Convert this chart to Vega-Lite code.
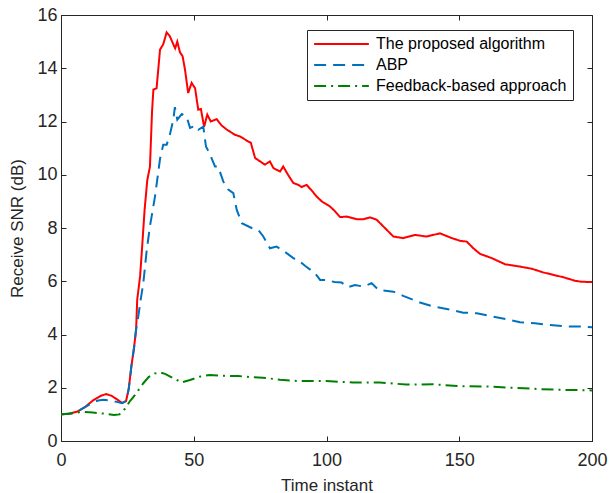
{
  "$schema": "https://vega.github.io/schema/vega-lite/v6.json",
  "width": 531,
  "height": 426,
  "autosize": {"type": "none"},
  "padding": {"left": 61, "top": 15, "right": 17, "bottom": 52},
  "config": {
    "font": "Liberation Sans",
    "view": {"stroke": "#262626", "strokeWidth": 1},
    "axis": {
      "domainColor": "#262626",
      "tickColor": "#262626",
      "labelColor": "#262626",
      "titleColor": "#262626",
      "labelFontSize": 18,
      "titleFontSize": 17,
      "titleFontWeight": "normal",
      "tickSize": -5,
      "grid": false
    }
  },
  "datasets": {
    "snr": [
      {"t": 0, "snr": 1.0, "method": "The proposed algorithm"},
      {"t": 3, "snr": 1.02, "method": "The proposed algorithm"},
      {"t": 6, "snr": 1.1, "method": "The proposed algorithm"},
      {"t": 9, "snr": 1.27, "method": "The proposed algorithm"},
      {"t": 12, "snr": 1.52, "method": "The proposed algorithm"},
      {"t": 15, "snr": 1.7, "method": "The proposed algorithm"},
      {"t": 17, "snr": 1.76, "method": "The proposed algorithm"},
      {"t": 19, "snr": 1.7, "method": "The proposed algorithm"},
      {"t": 21, "snr": 1.57, "method": "The proposed algorithm"},
      {"t": 23, "snr": 1.43, "method": "The proposed algorithm"},
      {"t": 24.5, "snr": 1.5, "method": "The proposed algorithm"},
      {"t": 25.5, "snr": 1.95, "method": "The proposed algorithm"},
      {"t": 26.5, "snr": 2.8, "method": "The proposed algorithm"},
      {"t": 27.5, "snr": 3.5, "method": "The proposed algorithm"},
      {"t": 28.3, "snr": 4.2, "method": "The proposed algorithm"},
      {"t": 28.7, "snr": 5.3, "method": "The proposed algorithm"},
      {"t": 29.8, "snr": 6.2, "method": "The proposed algorithm"},
      {"t": 30.5, "snr": 7.2, "method": "The proposed algorithm"},
      {"t": 31.5, "snr": 8.7, "method": "The proposed algorithm"},
      {"t": 32.5, "snr": 9.8, "method": "The proposed algorithm"},
      {"t": 33.5, "snr": 10.3, "method": "The proposed algorithm"},
      {"t": 34.3, "snr": 12.4, "method": "The proposed algorithm"},
      {"t": 34.8, "snr": 13.2, "method": "The proposed algorithm"},
      {"t": 36, "snr": 13.25, "method": "The proposed algorithm"},
      {"t": 37.3, "snr": 14.7, "method": "The proposed algorithm"},
      {"t": 38.5, "snr": 14.9, "method": "The proposed algorithm"},
      {"t": 39.8, "snr": 15.35, "method": "The proposed algorithm"},
      {"t": 41, "snr": 15.2, "method": "The proposed algorithm"},
      {"t": 42.3, "snr": 14.9, "method": "The proposed algorithm"},
      {"t": 43, "snr": 14.75, "method": "The proposed algorithm"},
      {"t": 43.8, "snr": 15.0, "method": "The proposed algorithm"},
      {"t": 44.8, "snr": 14.6, "method": "The proposed algorithm"},
      {"t": 45.8, "snr": 14.45, "method": "The proposed algorithm"},
      {"t": 46.7, "snr": 13.95, "method": "The proposed algorithm"},
      {"t": 47.9, "snr": 13.07, "method": "The proposed algorithm"},
      {"t": 49.2, "snr": 13.45, "method": "The proposed algorithm"},
      {"t": 50.5, "snr": 13.25, "method": "The proposed algorithm"},
      {"t": 51.7, "snr": 12.44, "method": "The proposed algorithm"},
      {"t": 52.7, "snr": 12.47, "method": "The proposed algorithm"},
      {"t": 53.9, "snr": 11.8, "method": "The proposed algorithm"},
      {"t": 55.1, "snr": 12.26, "method": "The proposed algorithm"},
      {"t": 56.4, "snr": 12.0, "method": "The proposed algorithm"},
      {"t": 58.6, "snr": 12.09, "method": "The proposed algorithm"},
      {"t": 60.5, "snr": 11.85, "method": "The proposed algorithm"},
      {"t": 62.4, "snr": 11.7, "method": "The proposed algorithm"},
      {"t": 65.5, "snr": 11.5, "method": "The proposed algorithm"},
      {"t": 67.4, "snr": 11.44, "method": "The proposed algorithm"},
      {"t": 70.5, "snr": 11.25, "method": "The proposed algorithm"},
      {"t": 71.5, "snr": 11.2, "method": "The proposed algorithm"},
      {"t": 73.1, "snr": 10.63, "method": "The proposed algorithm"},
      {"t": 75, "snr": 10.5, "method": "The proposed algorithm"},
      {"t": 76.8, "snr": 10.38, "method": "The proposed algorithm"},
      {"t": 78.7, "snr": 10.5, "method": "The proposed algorithm"},
      {"t": 80, "snr": 10.25, "method": "The proposed algorithm"},
      {"t": 82.5, "snr": 10.12, "method": "The proposed algorithm"},
      {"t": 83.7, "snr": 10.31, "method": "The proposed algorithm"},
      {"t": 85.5, "snr": 10.0, "method": "The proposed algorithm"},
      {"t": 87.5, "snr": 9.69, "method": "The proposed algorithm"},
      {"t": 89.4, "snr": 9.62, "method": "The proposed algorithm"},
      {"t": 90.6, "snr": 9.54, "method": "The proposed algorithm"},
      {"t": 92.5, "snr": 9.62, "method": "The proposed algorithm"},
      {"t": 94.5, "snr": 9.4, "method": "The proposed algorithm"},
      {"t": 96.3, "snr": 9.18, "method": "The proposed algorithm"},
      {"t": 98.2, "snr": 9.0, "method": "The proposed algorithm"},
      {"t": 101.3, "snr": 8.81, "method": "The proposed algorithm"},
      {"t": 103, "snr": 8.65, "method": "The proposed algorithm"},
      {"t": 105.1, "snr": 8.41, "method": "The proposed algorithm"},
      {"t": 107.6, "snr": 8.43, "method": "The proposed algorithm"},
      {"t": 111.4, "snr": 8.33, "method": "The proposed algorithm"},
      {"t": 113.9, "snr": 8.33, "method": "The proposed algorithm"},
      {"t": 116.4, "snr": 8.4, "method": "The proposed algorithm"},
      {"t": 118.9, "snr": 8.31, "method": "The proposed algorithm"},
      {"t": 122, "snr": 8.0, "method": "The proposed algorithm"},
      {"t": 125.2, "snr": 7.68, "method": "The proposed algorithm"},
      {"t": 128.9, "snr": 7.62, "method": "The proposed algorithm"},
      {"t": 133.3, "snr": 7.74, "method": "The proposed algorithm"},
      {"t": 137.7, "snr": 7.68, "method": "The proposed algorithm"},
      {"t": 142.7, "snr": 7.8, "method": "The proposed algorithm"},
      {"t": 147.2, "snr": 7.62, "method": "The proposed algorithm"},
      {"t": 150.3, "snr": 7.52, "method": "The proposed algorithm"},
      {"t": 152.8, "snr": 7.49, "method": "The proposed algorithm"},
      {"t": 155.3, "snr": 7.24, "method": "The proposed algorithm"},
      {"t": 157.8, "snr": 7.03, "method": "The proposed algorithm"},
      {"t": 162.2, "snr": 6.87, "method": "The proposed algorithm"},
      {"t": 167.2, "snr": 6.64, "method": "The proposed algorithm"},
      {"t": 172.9, "snr": 6.55, "method": "The proposed algorithm"},
      {"t": 177.3, "snr": 6.47, "method": "The proposed algorithm"},
      {"t": 181.7, "snr": 6.33, "method": "The proposed algorithm"},
      {"t": 189.2, "snr": 6.15, "method": "The proposed algorithm"},
      {"t": 193.6, "snr": 6.02, "method": "The proposed algorithm"},
      {"t": 196, "snr": 5.98, "method": "The proposed algorithm"},
      {"t": 200, "snr": 5.97, "method": "The proposed algorithm"},

      {"t": 0, "snr": 1.0, "method": "ABP"},
      {"t": 3, "snr": 1.02, "method": "ABP"},
      {"t": 6, "snr": 1.1, "method": "ABP"},
      {"t": 9, "snr": 1.27, "method": "ABP"},
      {"t": 12, "snr": 1.45, "method": "ABP"},
      {"t": 14, "snr": 1.52, "method": "ABP"},
      {"t": 16, "snr": 1.55, "method": "ABP"},
      {"t": 18, "snr": 1.53, "method": "ABP"},
      {"t": 21, "snr": 1.47, "method": "ABP"},
      {"t": 23, "snr": 1.42, "method": "ABP"},
      {"t": 24.5, "snr": 1.5, "method": "ABP"},
      {"t": 25.5, "snr": 1.95, "method": "ABP"},
      {"t": 26.5, "snr": 2.8, "method": "ABP"},
      {"t": 27.5, "snr": 3.5, "method": "ABP"},
      {"t": 28.3, "snr": 4.2, "method": "ABP"},
      {"t": 29, "snr": 4.6, "method": "ABP"},
      {"t": 30, "snr": 5.3, "method": "ABP"},
      {"t": 31, "snr": 5.93, "method": "ABP"},
      {"t": 32.3, "snr": 7.18, "method": "ABP"},
      {"t": 33.5, "snr": 8.06, "method": "ABP"},
      {"t": 35.4, "snr": 9.18, "method": "ABP"},
      {"t": 37.3, "snr": 10.6, "method": "ABP"},
      {"t": 38.5, "snr": 11.13, "method": "ABP"},
      {"t": 39.8, "snr": 11.13, "method": "ABP"},
      {"t": 41, "snr": 11.5, "method": "ABP"},
      {"t": 42.3, "snr": 12.07, "method": "ABP"},
      {"t": 42.9, "snr": 12.54, "method": "ABP"},
      {"t": 43.8, "snr": 12.07, "method": "ABP"},
      {"t": 45.5, "snr": 12.28, "method": "ABP"},
      {"t": 47.3, "snr": 12.19, "method": "ABP"},
      {"t": 48.6, "snr": 11.76, "method": "ABP"},
      {"t": 50.5, "snr": 11.84, "method": "ABP"},
      {"t": 51.7, "snr": 11.69, "method": "ABP"},
      {"t": 53.6, "snr": 11.81, "method": "ABP"},
      {"t": 54.6, "snr": 11.06, "method": "ABP"},
      {"t": 55.9, "snr": 10.82, "method": "ABP"},
      {"t": 58, "snr": 10.31, "method": "ABP"},
      {"t": 59.2, "snr": 10.31, "method": "ABP"},
      {"t": 61.1, "snr": 9.75, "method": "ABP"},
      {"t": 63, "snr": 9.44, "method": "ABP"},
      {"t": 64.9, "snr": 9.31, "method": "ABP"},
      {"t": 66.2, "snr": 8.68, "method": "ABP"},
      {"t": 68.1, "snr": 8.18, "method": "ABP"},
      {"t": 71.8, "snr": 8.0, "method": "ABP"},
      {"t": 74.3, "snr": 7.93, "method": "ABP"},
      {"t": 76.2, "snr": 7.68, "method": "ABP"},
      {"t": 78.7, "snr": 7.24, "method": "ABP"},
      {"t": 81.2, "snr": 7.3, "method": "ABP"},
      {"t": 83.7, "snr": 7.15, "method": "ABP"},
      {"t": 87.5, "snr": 6.87, "method": "ABP"},
      {"t": 90, "snr": 6.74, "method": "ABP"},
      {"t": 91.9, "snr": 6.58, "method": "ABP"},
      {"t": 95.7, "snr": 6.3, "method": "ABP"},
      {"t": 97.6, "snr": 6.05, "method": "ABP"},
      {"t": 100, "snr": 6.05, "method": "ABP"},
      {"t": 103, "snr": 5.97, "method": "ABP"},
      {"t": 105.7, "snr": 5.95, "method": "ABP"},
      {"t": 108.2, "snr": 5.78, "method": "ABP"},
      {"t": 110.7, "snr": 5.86, "method": "ABP"},
      {"t": 113.9, "snr": 5.8, "method": "ABP"},
      {"t": 117, "snr": 5.93, "method": "ABP"},
      {"t": 119.5, "snr": 5.68, "method": "ABP"},
      {"t": 125.2, "snr": 5.61, "method": "ABP"},
      {"t": 128.9, "snr": 5.45, "method": "ABP"},
      {"t": 135.2, "snr": 5.2, "method": "ABP"},
      {"t": 140.2, "snr": 5.05, "method": "ABP"},
      {"t": 145.3, "snr": 4.96, "method": "ABP"},
      {"t": 151.5, "snr": 4.82, "method": "ABP"},
      {"t": 156.6, "snr": 4.8, "method": "ABP"},
      {"t": 162.8, "snr": 4.67, "method": "ABP"},
      {"t": 167.9, "snr": 4.57, "method": "ABP"},
      {"t": 172.9, "snr": 4.46, "method": "ABP"},
      {"t": 178.5, "snr": 4.42, "method": "ABP"},
      {"t": 184.2, "snr": 4.36, "method": "ABP"},
      {"t": 190.5, "snr": 4.3, "method": "ABP"},
      {"t": 195.5, "snr": 4.3, "method": "ABP"},
      {"t": 200, "snr": 4.27, "method": "ABP"},

      {"t": 0, "snr": 1.0, "method": "Feedback-based approach"},
      {"t": 4, "snr": 1.03, "method": "Feedback-based approach"},
      {"t": 8, "snr": 1.1, "method": "Feedback-based approach"},
      {"t": 12, "snr": 1.07, "method": "Feedback-based approach"},
      {"t": 16, "snr": 1.03, "method": "Feedback-based approach"},
      {"t": 20, "snr": 0.98, "method": "Feedback-based approach"},
      {"t": 22, "snr": 1.0, "method": "Feedback-based approach"},
      {"t": 24, "snr": 1.2, "method": "Feedback-based approach"},
      {"t": 26, "snr": 1.5, "method": "Feedback-based approach"},
      {"t": 27.9, "snr": 1.73, "method": "Feedback-based approach"},
      {"t": 31, "snr": 2.17, "method": "Feedback-based approach"},
      {"t": 33, "snr": 2.4, "method": "Feedback-based approach"},
      {"t": 35.4, "snr": 2.54, "method": "Feedback-based approach"},
      {"t": 37.5, "snr": 2.57, "method": "Feedback-based approach"},
      {"t": 39.2, "snr": 2.52, "method": "Feedback-based approach"},
      {"t": 42.3, "snr": 2.36, "method": "Feedback-based approach"},
      {"t": 45.5, "snr": 2.2, "method": "Feedback-based approach"},
      {"t": 48.6, "snr": 2.29, "method": "Feedback-based approach"},
      {"t": 52.4, "snr": 2.42, "method": "Feedback-based approach"},
      {"t": 56.1, "snr": 2.48, "method": "Feedback-based approach"},
      {"t": 59.9, "snr": 2.45, "method": "Feedback-based approach"},
      {"t": 66.8, "snr": 2.44, "method": "Feedback-based approach"},
      {"t": 71, "snr": 2.4, "method": "Feedback-based approach"},
      {"t": 76, "snr": 2.38, "method": "Feedback-based approach"},
      {"t": 82.5, "snr": 2.3, "method": "Feedback-based approach"},
      {"t": 90, "snr": 2.25, "method": "Feedback-based approach"},
      {"t": 100, "snr": 2.25, "method": "Feedback-based approach"},
      {"t": 110, "snr": 2.2, "method": "Feedback-based approach"},
      {"t": 120, "snr": 2.2, "method": "Feedback-based approach"},
      {"t": 130, "snr": 2.12, "method": "Feedback-based approach"},
      {"t": 140, "snr": 2.13, "method": "Feedback-based approach"},
      {"t": 150, "snr": 2.06, "method": "Feedback-based approach"},
      {"t": 160, "snr": 2.05, "method": "Feedback-based approach"},
      {"t": 170, "snr": 2.0, "method": "Feedback-based approach"},
      {"t": 180, "snr": 1.95, "method": "Feedback-based approach"},
      {"t": 190, "snr": 1.92, "method": "Feedback-based approach"},
      {"t": 200, "snr": 1.9, "method": "Feedback-based approach"}
    ]
  },
  "data": {"name": "snr"},
  "layer": [
    {
      "mark": {"type": "line", "strokeWidth": 2, "clip": true},
      "encoding": {
        "x": {
          "field": "t", "type": "quantitative",
          "scale": {"domain": [0, 200], "nice": false, "zero": false},
          "axis": {"title": "Time instant", "values": [0, 50, 100, 150, 200], "labelPadding": 15, "titlePadding": 8, "labelFlush": false}
        },
        "y": {
          "field": "snr", "type": "quantitative",
          "scale": {"domain": [0, 16], "nice": false},
          "axis": {"title": "Receive SNR (dB)", "values": [0, 2, 4, 6, 8, 10, 12, 14, 16], "labelPadding": 9, "titlePadding": 10, "labelFlush": false}
        },
        "color": {
          "field": "method", "type": "nominal",
          "scale": {
            "domain": ["The proposed algorithm", "ABP", "Feedback-based approach"],
            "range": ["#FF0000", "#0072BD", "#008000"]
          },
          "legend": {
            "title": null,
            "orient": "none",
            "legendX": 246,
            "legendY": 15,
            "direction": "vertical",
            "symbolType": "stroke",
            "symbolSize": 3000,
            "symbolStrokeWidth": 2,
            "labelFontSize": 16,
            "labelColor": "#000000",
            "labelOffset": 6,
            "labelLimit": 400,
            "clipHeight": 16,
            "rowPadding": 5,
            "padding": 6,
            "strokeColor": "#262626",
            "fillColor": "#FFFFFF"
          }
        },
        "strokeDash": {
          "field": "method", "type": "nominal",
          "scale": {
            "domain": ["The proposed algorithm", "ABP", "Feedback-based approach"],
            "range": [[1, 0], [12, 7], [12, 5, 2, 5]]
          },
          "legend": null
        }
      }
    },
    {
      "mark": {"type": "line", "opacity": 0},
      "encoding": {
        "x": {
          "field": "t", "type": "quantitative",
          "axis": {"orient": "top", "labels": false, "title": null, "domain": false, "values": [0, 50, 100, 150, 200]}
        },
        "y": {
          "field": "snr", "type": "quantitative",
          "axis": {"orient": "right", "labels": false, "title": null, "domain": false, "values": [0, 2, 4, 6, 8, 10, 12, 14, 16]}
        }
      }
    }
  ],
  "resolve": {"axis": {"x": "independent", "y": "independent"}}
}
